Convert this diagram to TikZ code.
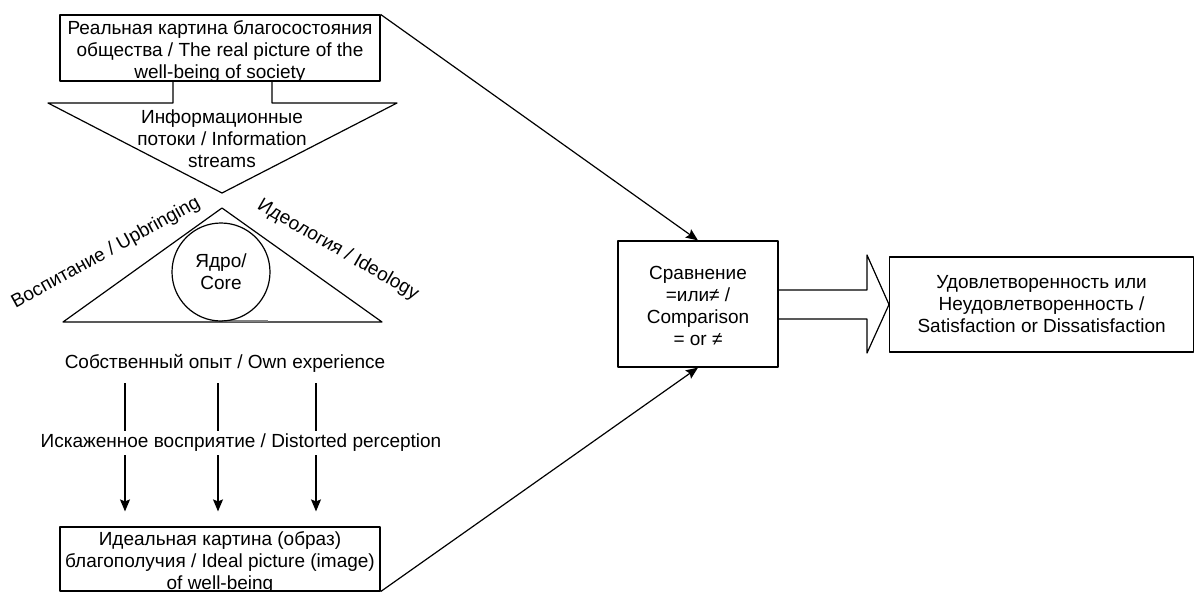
\documentclass[tikz,border=0pt]{standalone}
\usepackage{fontspec}
\setmainfont{Liberation Sans}
\usetikzlibrary{arrows.meta}
\tikzset{
	box/.style={draw, rectangle, align=center, inner sep=0pt},
	txt/.style={align=center, inner sep=1pt},
}
\begin{document}
\begin{tikzpicture}[>={Stealth[length=12pt,width=10pt,inset=2pt]}, line join=round, line width=1.2pt, font=\fontsize{19}{22}\selectfont, x=1pt, y=-1pt]
	\useasboundingbox (0,0) rectangle (1195,592);
	\node[box, minimum width=320, minimum height=66] (real) at (220,48) {};
	\node[txt] (realtxt) at (220,52) {Реальная картина благосостояния\\общества / The real picture of the\\well-being of society};
	\draw (173,81)--(173,103)--(48,103)--(222,193)--(397,103)--(272,103)--(272,81);
	\node[txt] (info) at (222,139) {Информационные\\потоки / Information\\streams};
	\draw (222,208)--(382,322)--(63,322)--cycle;
	\draw[line width=2.5pt, gray] (222,321)--(268,321);
	\node[draw, circle, minimum size=98, inner sep=0pt, align=center] (core) at (221,272) {Ядро/\\Core};
	\node[txt, rotate=29] (upbr) at (106,253) {Воспитание / Upbringing};
	\node[txt, rotate=-30] (ideol) at (338,250) {Идеология / Ideology};
	\node[txt] (exp) at (225,363) {Собственный опыт / Own experience};
	\node[box, minimum width=320, minimum height=64] (ideal) at (220,559) {};
	\node[txt] (idealtxt) at (220,562) {Идеальная картина (образ)\\благополучия / Ideal picture (image)\\of well-being};
	\foreach \x/\n in {125/1,218/2,316/3}{
		\coordinate (s\n) at (\x,383);
		\draw[->, shorten >=15pt] (s\n) -- (s\n |- ideal.north);
	}
	\node[txt, fill=white, inner sep=3pt] (dist) at (241,443) {Искаженное восприятие / Distorted perception};
	\node[box, minimum width=160, minimum height=126] (cmp) at (698,304) {};
	\node[txt] (cmptxt) at (698,306) {Сравнение\\=или≠ /\\Comparison\\= or ≠};
	\node[box, minimum width=304, minimum height=95, anchor=west] (res) at (889,304.5) {Удовлетворенность или\\Неудовлетворенность /\\Satisfaction or Dissatisfaction};
	\draw (cmp.east |- 0,290)--(867,290)--(867,255)--(res.west)--(867,353)--(867,319)--(cmp.east |- 0,319);
	\draw[->] (real.north east) -- (cmp.north);
	\draw[->] (ideal.south east) -- (cmp.south);
\end{tikzpicture}
\end{document}
